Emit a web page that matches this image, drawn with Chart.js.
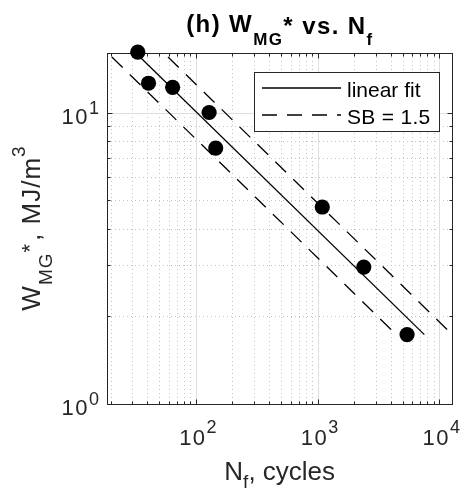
<!DOCTYPE html>
<html lang="en">
<head>
  <meta charset="UTF-8" />
  <title>W_MG* vs. N_f</title>
  <script src="https://cdn.jsdelivr.net/npm/chart.js"></script>
  <style>
    body{margin:0;padding:0;background:#fff}
    canvas{display:block}
  </style>
</head>
<body>
<canvas id="c" width="460" height="497"></canvas>
<script>
// --- data ------------------------------------------------------------------
const nf = [33.3, 40.8, 64.4, 128.5, 145.6, 1094, 2399, 5445];   // cycles
const wmg = [16.1, 12.6, 12.2, 10.0, 7.55, 4.74, 2.95, 1.73];    // MJ/m^3

// fit line and scatter band (SB = 1.5) end points
const bandW = [15.5, 1.73];
const fitN = [34.7, 7550];
const upperN = [59, 12840];
const lowerN = [20.4, 4440];

// axes
const xMin = 18.6, xMax = 12840;
const yMin = 1, yMax = 16;
const xTicks = [100, 1000, 10000];
const xTickLabels = ['10^2', '10^3', '10^4'];
const yTicks = [1, 10];
const yTickLabels = ['10^0', '10^1'];
const xMinor = [20,30,40,50,60,70,80,90,200,300,400,500,600,700,800,900,2000,3000,4000,5000,6000,7000,8000,9000];
const yMinor = [2,3,4,5,6,7,8,9];

const FONT = '"Liberation Sans", Arial, Helvetica, sans-serif';
const AX = '#262626';

const pairs = (xs, ys) => xs.map((x, i) => ({x: x, y: ys[i]}));

// draw a run of text pieces: [text, size, dy, bold, spacing]
function rich(ctx, parts, x, y, align) {
  let w = 0;
  parts.forEach(p => {
    ctx.font = (p[3] ? 'bold ' : '') + p[1] + 'px ' + FONT;
    ctx.letterSpacing = (p[4] || 0) + 'px';
    p.w = ctx.measureText(p[0]).width;
    w += p.w;
  });
  let cx = align === 'center' ? x - w / 2 : align === 'right' ? x - w : x;
  ctx.textAlign = 'left';
  ctx.textBaseline = 'alphabetic';
  parts.forEach(p => {
    ctx.font = (p[3] ? 'bold ' : '') + p[1] + 'px ' + FONT;
    ctx.letterSpacing = (p[4] || 0) + 'px';
    ctx.fillText(p[0], cx, y + p[2]);
    cx += p.w;
  });
  ctx.letterSpacing = '0px';
}

function seg(ctx, x1, y1, x2, y2) {
  ctx.beginPath(); ctx.moveTo(x1, y1); ctx.lineTo(x2, y2); ctx.stroke();
}

const axesPlugin = {
  id: 'matlabAxes',
  beforeDatasetsDraw(chart) {
    const ctx = chart.ctx, a = chart.chartArea;
    const xs = chart.scales.x, ys = chart.scales.y;
    const px = v => Math.round(xs.getPixelForValue(v)) + 0.5;
    const py = v => Math.round(ys.getPixelForValue(v)) + 0.5;
    ctx.save();
    ctx.lineWidth = 1;
    // minor grid, dotted
    ctx.strokeStyle = '#c4c4c4';
    ctx.setLineDash([1, 3]);
    xMinor.forEach(v => seg(ctx, px(v), a.top, px(v), a.bottom));
    yMinor.forEach(v => seg(ctx, a.left, py(v), a.right, py(v)));
    // major grid
    ctx.setLineDash([]);
    ctx.strokeStyle = '#dedede';
    xTicks.forEach(v => seg(ctx, px(v), a.top, px(v), a.bottom));
    yTicks.forEach(v => seg(ctx, a.left, py(v), a.right, py(v)));
    // box
    ctx.strokeStyle = AX;
    ctx.strokeRect(Math.round(a.left) + 0.5, Math.round(a.top) + 0.5,
                   Math.round(a.right - a.left), Math.round(a.bottom - a.top));
    // tick marks, inside, on all four sides
    const b = Math.round(a.bottom) + 0.5, t = Math.round(a.top) + 0.5;
    const l = Math.round(a.left) + 0.5, r = Math.round(a.right) + 0.5;
    xTicks.forEach(v => { seg(ctx, px(v), b, px(v), b - 5); seg(ctx, px(v), t, px(v), t + 5); });
    xMinor.forEach(v => { seg(ctx, px(v), b, px(v), b - 3); seg(ctx, px(v), t, px(v), t + 3); });
    yTicks.forEach(v => { seg(ctx, l, py(v), l + 5, py(v)); seg(ctx, r, py(v), r - 5, py(v)); });
    yMinor.forEach(v => { seg(ctx, l, py(v), l + 3, py(v)); seg(ctx, r, py(v), r - 3, py(v)); });
    ctx.restore();
  },
  afterDatasetsDraw(chart) {
    const ctx = chart.ctx, a = chart.chartArea;
    const xs = chart.scales.x, ys = chart.scales.y;
    ctx.save();
    // legend
    ctx.fillStyle = '#fff';
    ctx.fillRect(254.5, 72.5, 185, 59);
    ctx.strokeStyle = AX; ctx.lineWidth = 1;
    ctx.strokeRect(254.5, 72.5, 185, 59);
    ctx.strokeStyle = '#000'; ctx.lineWidth = 1.3;
    seg(ctx, 262, 88, 341, 88);
    ctx.setLineDash([15, 10]);
    seg(ctx, 262, 115, 341, 115);
    ctx.setLineDash([]);
    ctx.fillStyle = '#000';
    rich(ctx, [['linear fit', 21, 0]], 347, 96.5, 'left');
    rich(ctx, [['SB = 1.5', 21, 0, false, 0.3]], 347, 123.5, 'left');

    // tick labels
    ctx.fillStyle = AX;
    xTicks.forEach((v, i) => {
      const [m, e] = xTickLabels[i].split('^');
      rich(ctx, [[m, 22, 0, false, 1.5], [e, 18, -12]], xs.getPixelForValue(v) + 2, a.bottom + 40.5, 'center');
    });
    yTicks.forEach((v, i) => {
      const [m, e] = yTickLabels[i].split('^');
      rich(ctx, [[m, 22, 0, false, 1.5], [e, 18, -10]], a.left - 8, ys.getPixelForValue(v) + 11, 'right');
    });

    // axis labels
    const cx = (a.left + a.right) / 2, cy = (a.top + a.bottom) / 2;
    rich(ctx, [['N', 26, 0], ['f', 19, 8], [', cycles', 26, 0]], cx, 480, 'center');
    ctx.save();
    ctx.translate(40, cy);
    ctx.rotate(-Math.PI / 2);
    rich(ctx, [['W', 26, 0, false, 1], ['MG', 19, 12, false, 1], ['*', 22, -3, false, 3],
               [', MJ/m', 26, 0, false, 1], ['3', 19, -15]], 0, 0, 'center');
    ctx.restore();

    // title
    ctx.fillStyle = '#000';
    rich(ctx, [['(h) W', 24, 0, true, 1.4], ['MG', 17, 13, true, 1.4], ['* vs. N', 24, 2, true, 1.4],
               ['f', 17, 13, true, 1]], cx, 31.5, 'center');
    ctx.restore();
  }
};

new Chart(document.getElementById('c'), {
  type: 'scatter',
  data: {
    datasets: [
      {label: 'data', data: pairs(nf, wmg), pointRadius: 7.6, pointBackgroundColor: '#000',
       pointBorderColor: '#000', pointBorderWidth: 0, clip: false},
      {type: 'line', label: 'linear fit', data: pairs(fitN, bandW), borderColor: '#000',
       borderWidth: 1.3, pointRadius: 0, fill: false, tension: 0},
      {type: 'line', label: 'SB = 1.5', data: pairs(upperN, bandW), borderColor: '#000',
       borderWidth: 1.3, borderDash: [15, 10], pointRadius: 0, fill: false, tension: 0},
      {type: 'line', label: 'SB lower', data: pairs(lowerN, bandW), borderColor: '#000',
       borderWidth: 1.3, borderDash: [15, 10], pointRadius: 0, fill: false, tension: 0}
    ]
  },
  options: {
    responsive: false,
    animation: false,
    devicePixelRatio: 1,
    layout: {padding: {left: 107, top: 53, right: 5, bottom: 93}},
    scales: {
      x: {type: 'logarithmic', min: xMin, max: xMax, display: false},
      y: {type: 'logarithmic', min: yMin, max: yMax, display: false}
    },
    plugins: {legend: {display: false}, tooltip: {enabled: false}}
  },
  plugins: [axesPlugin]
});
</script>
</body>
</html>
